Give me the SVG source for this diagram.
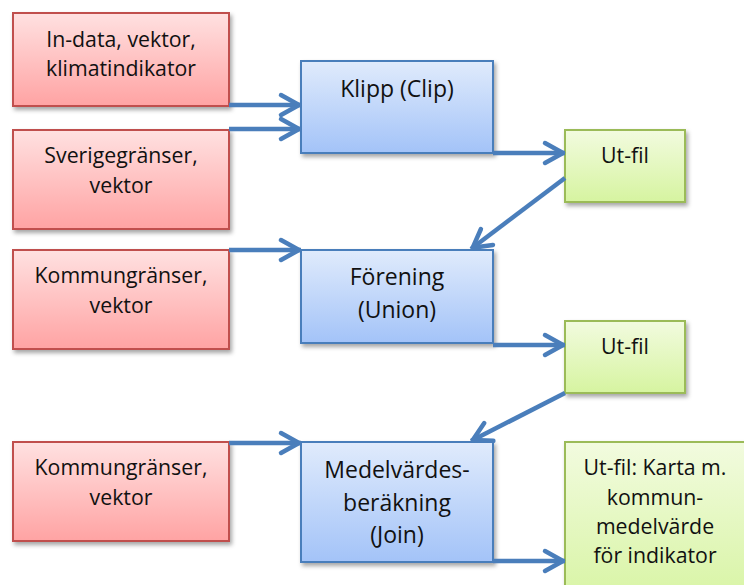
<svg xmlns="http://www.w3.org/2000/svg" width="744" height="585" viewBox="0 0 744 585">
<defs>
<linearGradient id="gRed" x1="0" y1="0" x2="0" y2="1"><stop offset="0" stop-color="#ffe1e1"/><stop offset="1" stop-color="#ffa3a3"/></linearGradient>
<linearGradient id="gBlue" x1="0" y1="0" x2="0" y2="1"><stop offset="0" stop-color="#e0ebfc"/><stop offset="1" stop-color="#a3c3f8"/></linearGradient>
<linearGradient id="gGreen" x1="0" y1="0" x2="0" y2="1"><stop offset="0" stop-color="#f2fbdf"/><stop offset="1" stop-color="#d6f4a0"/></linearGradient>
<filter id="sh" x="-10%" y="-10%" width="130%" height="140%"><feDropShadow dx="2" dy="3" stdDeviation="2" flood-color="#000" flood-opacity="0.35"/></filter>
<marker id="arr" markerUnits="userSpaceOnUse" viewBox="-26 -16 30 32" markerWidth="30" markerHeight="32" refX="0" refY="0" orient="auto">
<path d="M-20,-10 L-2,0 L-20,10" fill="none" stroke="#4a7ebb" stroke-width="4.5" stroke-linecap="round" stroke-linejoin="round"/>
</marker>
</defs>
<style>
.red{fill:url(#gRed);stroke:#c0504d;stroke-width:2;filter:url(#sh)}
.blue{fill:url(#gBlue);stroke:#4a7ebb;stroke-width:2;filter:url(#sh)}
.green{fill:url(#gGreen);stroke:#9bbb59;stroke-width:2;filter:url(#sh)}
text{font-family:"Open Sans","Noto Sans",sans-serif;fill:#111;text-anchor:middle}
.s{font-size:21.3px}
.b{font-size:23px}
.c{fill:none;stroke:#4a7ebb;stroke-width:4.5;marker-end:url(#arr)}
</style>
<rect width="744" height="585" fill="#fff"/>
<g id="red1"><rect class="red" x="13" y="13" width="216" height="93"/><text class="s" x="121" y="47">In-data, vektor,</text><text class="s" x="121" y="76">klimatindikator</text></g>
<g id="red2"><rect class="red" x="13" y="130" width="216" height="99"/><text class="s" x="121" y="163">Sverigegränser,</text><text class="s" x="121" y="193">vektor</text></g>
<g id="red3"><rect class="red" x="13" y="250" width="216" height="99"/><text class="s" x="121" y="283">Kommungränser,</text><text class="s" x="121" y="313">vektor</text></g>
<g id="red4"><rect class="red" x="13" y="442" width="216" height="99"/><text class="s" x="121" y="475">Kommungränser,</text><text class="s" x="121" y="505">vektor</text></g>
<g id="blue1"><rect class="blue" x="301" y="61" width="192" height="92"/><text class="b" x="397" y="97">Klipp (Clip)</text></g>
<g id="blue2"><rect class="blue" x="301" y="250" width="192" height="93"/><text class="b" x="397" y="285">Förening</text><text class="b" x="397" y="318">(Union)</text></g>
<g id="blue3"><rect class="blue" x="301" y="442" width="192" height="120"/><text class="b" x="397" y="478">Medelvärdes-</text><text class="b" x="397" y="511">beräkning</text><text class="b" x="397" y="543">(Join)</text></g>
<g id="green1"><rect class="green" x="565" y="130" width="120" height="72"/><text class="s" x="625" y="163">Ut-fil</text></g>
<g id="green2"><rect class="green" x="565" y="321" width="120" height="72"/><text class="s" x="625" y="354">Ut-fil</text></g>
<g id="green3"><rect class="green" x="565" y="442" width="200" height="170"/><text class="s" x="655" y="475">Ut-fil: Karta m.</text><text class="s" x="655" y="505">kommun-</text><text class="s" x="655" y="534">medelvärde</text><text class="s" x="655" y="563">för indikator</text></g>
<g id="connectors">
<path class="c" d="M229,105 L301,105"/>
<path class="c" d="M229,129 L301,129"/>
<path class="c" d="M493,153 L565,153"/>
<path class="c" d="M565,178 L471,249"/>
<path class="c" d="M229,250 L301,250"/>
<path class="c" d="M493,345 L565,345"/>
<path class="c" d="M565,393 L471,441"/>
<path class="c" d="M229,443 L301,443"/>
<path class="c" d="M493,561 L565,561"/>
</g>
</svg>
